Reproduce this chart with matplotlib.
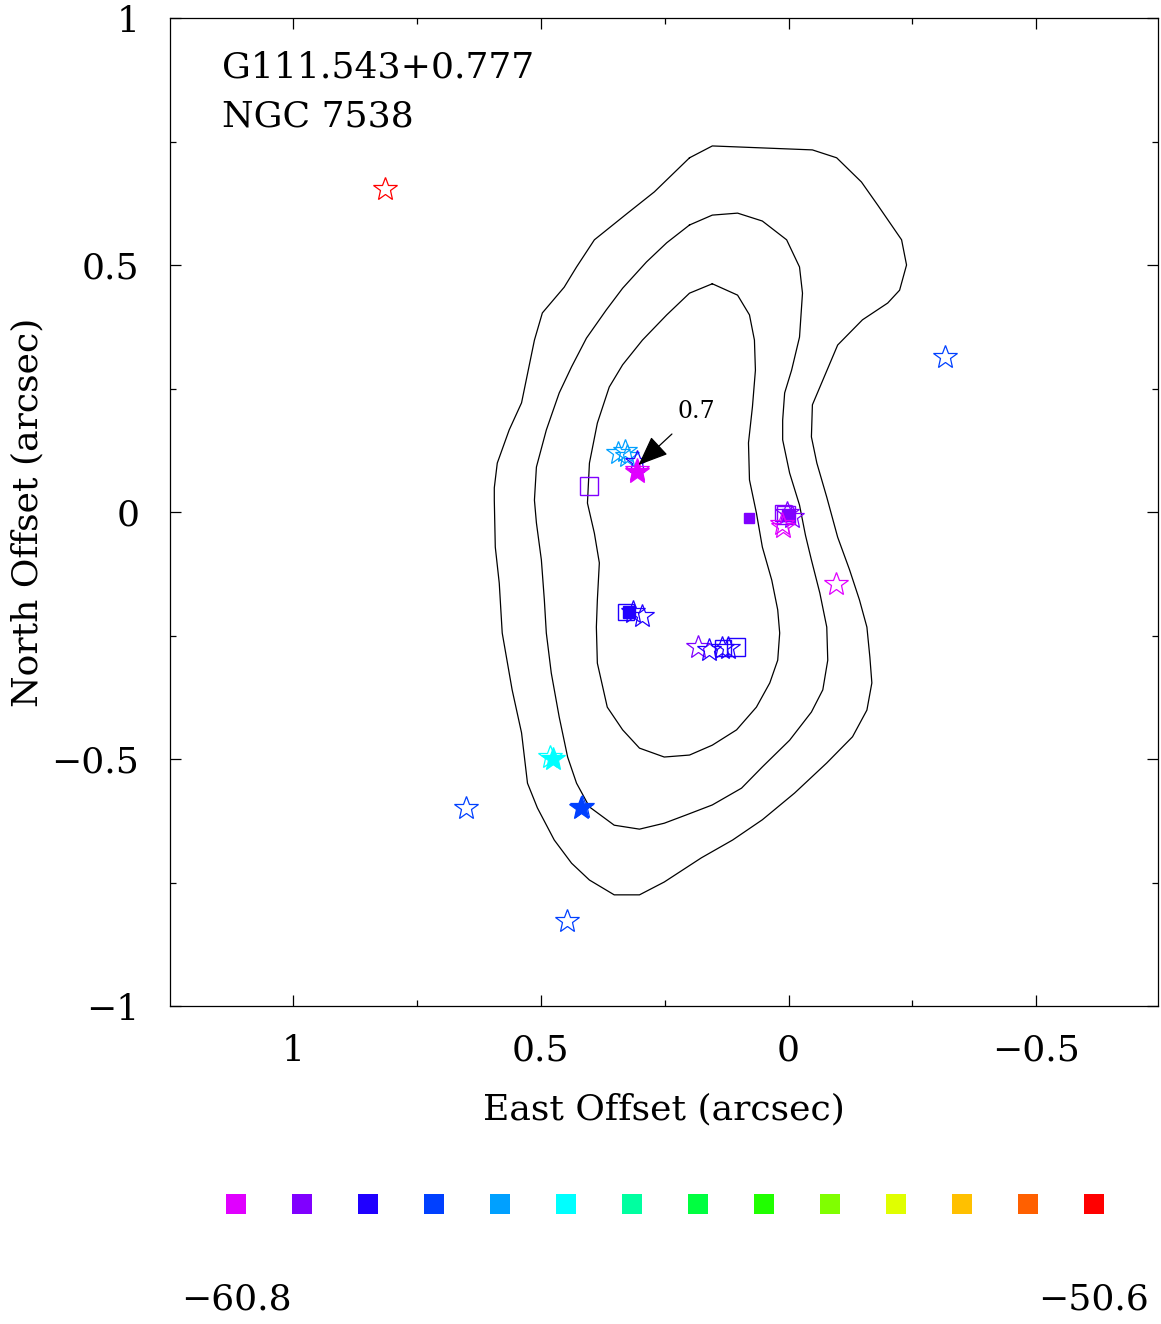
import numpy as np
import matplotlib
matplotlib.use('Agg')
import matplotlib.pyplot as plt
from matplotlib.colors import ListedColormap, Normalize
from matplotlib.ticker import MultipleLocator, FuncFormatter

# velocity key (km/s) and its colour bins
v_min = -60.8
v_max = -50.6
key_colours = ['#e000ff', '#8000ff', '#2000ff', '#0040ff', '#00a0ff', '#00ffff', '#00ffa0',
               '#00ff40', '#20ff00', '#80ff00', '#e0ff00', '#ffc000', '#ff6000', '#ff0000']

# maser spots drawn as stars: offsets (arcsec), velocity, filled or not
star_x = [0.814, -0.315, 0.345, 0.331, 0.327, 0.307, 0.307, 0.305, 0.004, -0.006, 0.012, 0.014,
          -0.095, 0.315, 0.295, 0.182, 0.160, 0.135, 0.123, 0.481, 0.476, 0.418, 0.420, 0.651, 0.448]
star_y = [0.654, 0.314, 0.119, 0.123, 0.113, 0.101, 0.085, 0.080, -0.002, -0.010, -0.030, -0.024,
          -0.146, -0.202, -0.211, -0.273, -0.279, -0.275, -0.275, -0.496, -0.500, -0.597, -0.599, -0.599, -0.828]
star_v = [-50.6, -58.4, -57.7, -57.7, -57.7, -59.2, -60.8, -60.8, -60.0, -60.0, -60.8, -60.8,
          -60.8, -59.2, -59.2, -60.0, -59.2, -59.2, -59.2, -56.9, -56.9, -58.4, -58.4, -58.4, -58.4]
star_fill = [False, False, False, False, False, False, False, True, False, False, False, False,
             False, False, False, False, False, False, False, False, True, False, True, False, False]

# spots drawn as squares
sq_x = [0.402, 0.079, 0.012, 0.006, 0.002, 0.329, 0.323, 0.133, 0.107]
sq_y = [0.053, -0.012, -0.002, -0.006, -0.006, -0.202, -0.202, -0.275, -0.273]
sq_v = [-60.0, -60.0, -60.0, -60.0, -60.0, -59.2, -59.2, -59.2, -59.2]
sq_fill = [False, True, False, False, True, False, True, False, False]
sq_ms = [13, 7, 11, 13, 9, 12, 9, 12, 13]

# continuum contours (arcsec)
outer_x = [0.200, 0.154, 0.103, -0.048, -0.097, -0.147, -0.180, -0.228, -0.238, -0.224, -0.200, -0.149,
           -0.099, -0.048, -0.046, -0.057, -0.077, -0.099, -0.123, -0.143, -0.158, -0.164, -0.168, -0.158,
           -0.129, -0.077, -0.012, 0.053, 0.113, 0.176, 0.251, 0.301, 0.352, 0.402, 0.438, 0.473, 0.507,
           0.527, 0.539, 0.558, 0.578, 0.584, 0.592, 0.594, 0.594, 0.588, 0.564, 0.539, 0.513, 0.497,
           0.453, 0.428, 0.392, 0.325, 0.271, 0.200]
outer_y = [0.717, 0.741, 0.739, 0.733, 0.717, 0.668, 0.621, 0.551, 0.500, 0.449, 0.423, 0.389,
           0.338, 0.217, 0.152, 0.099, 0.030, -0.051, -0.117, -0.178, -0.233, -0.294, -0.346, -0.401,
           -0.455, -0.508, -0.569, -0.623, -0.664, -0.700, -0.749, -0.775, -0.775, -0.745, -0.711, -0.664,
           -0.599, -0.549, -0.447, -0.360, -0.245, -0.144, -0.071, 0.024, 0.049, 0.099, 0.166, 0.221,
           0.348, 0.403, 0.455, 0.496, 0.551, 0.605, 0.648, 0.717]

middle_x = [0.200, 0.154, 0.103, 0.053, 0.004, -0.022, -0.028, -0.022, -0.006, 0.008, 0.012, 0.012,
            -0.002, -0.022, -0.034, -0.046, -0.063, -0.077, -0.079, -0.069, -0.046, -0.002, 0.053, 0.095,
            0.154, 0.206, 0.251, 0.301, 0.352, 0.402, 0.428, 0.446, 0.463, 0.479, 0.489, 0.493, 0.499,
            0.509, 0.513, 0.509, 0.489, 0.463, 0.438, 0.408, 0.368, 0.335, 0.287, 0.246, 0.200]
middle_y = [0.581, 0.601, 0.605, 0.589, 0.551, 0.496, 0.443, 0.354, 0.287, 0.241, 0.186, 0.146,
            0.079, 0.014, -0.047, -0.097, -0.164, -0.233, -0.300, -0.360, -0.405, -0.462, -0.516, -0.559,
            -0.593, -0.613, -0.630, -0.642, -0.634, -0.597, -0.549, -0.496, -0.415, -0.326, -0.245, -0.178,
            -0.097, -0.022, 0.024, 0.091, 0.166, 0.241, 0.294, 0.352, 0.409, 0.453, 0.506, 0.545, 0.581]

inner_x = [0.154, 0.103, 0.079, 0.069, 0.067, 0.073, 0.081, 0.079, 0.065, 0.053, 0.034, 0.022,
           0.018, 0.022, 0.038, 0.065, 0.105, 0.154, 0.200, 0.251, 0.301, 0.335, 0.366, 0.386,
           0.388, 0.386, 0.382, 0.392, 0.406, 0.402, 0.386, 0.362, 0.335, 0.295, 0.246, 0.200, 0.154]
inner_y = [0.462, 0.439, 0.399, 0.348, 0.287, 0.213, 0.140, 0.065, -0.002, -0.071, -0.138, -0.198,
           -0.245, -0.300, -0.346, -0.395, -0.441, -0.472, -0.492, -0.496, -0.478, -0.441, -0.395, -0.306,
           -0.233, -0.178, -0.103, -0.043, 0.018, 0.099, 0.180, 0.253, 0.298, 0.348, 0.399, 0.443, 0.462]

source_name = 'G111.543+0.777'
source_alias = 'NGC 7538'
peak_label = '0.7'

plt.rcParams['font.family'] = ['DejaVu Serif']
plt.rcParams['mathtext.fontset'] = 'dejavuserif'

n_bins = len(key_colours)
step = (v_max - v_min) / (n_bins - 1)
cmap = ListedColormap(key_colours)
norm = Normalize(vmin=v_min - step / 2, vmax=v_max + step / 2)

fig = plt.figure(figsize=(11.61, 13.24), dpi=100)
ax = fig.add_axes([170 / 1161, 318 / 1324, 988 / 1161, 988 / 1324])

for cx, cy in [(outer_x, outer_y), (middle_x, middle_y), (inner_x, inner_y)]:
    ax.plot(cx, cy, color='black', lw=0.9, zorder=2)

for x, y, v, f, ms in zip(sq_x, sq_y, sq_v, sq_fill, sq_ms):
    c = cmap(norm(v))
    ax.plot(x, y, 's', ms=ms, mec=c, mfc=c if f else 'none', mew=1.0, zorder=3)

for x, y, v, f in zip(star_x, star_y, star_v, star_fill):
    c = cmap(norm(v))
    ax.plot(x, y, '*', ms=18, mec=c, mfc=c if f else 'none', mew=0.9, zorder=4)

ax.annotate(peak_label, xy=(0.303, 0.095), xytext=(0.186, 0.204), fontsize=17,
            ha='center', va='center', zorder=5,
            arrowprops=dict(arrowstyle='-|>,head_length=1.1,head_width=0.45', color='black',
                            lw=0.9, shrinkA=9, shrinkB=0))

ax.text(0.053, 0.950, source_name, transform=ax.transAxes, fontsize=26, va='center', ha='left')
ax.text(0.053, 0.900, source_alias, transform=ax.transAxes, fontsize=26, va='center', ha='left')

ax.set_xlim(1.2485, -0.7455)
ax.set_ylim(-1, 1)

fmt = FuncFormatter(lambda v, pos: ('%g' % v).replace('-', '\u2212'))
for axis in [ax.xaxis, ax.yaxis]:
    axis.set_major_locator(MultipleLocator(0.5))
    axis.set_minor_locator(MultipleLocator(0.25))
    axis.set_major_formatter(fmt)
ax.tick_params(which='both', direction='in', top=True, right=True, width=0.9, labelsize=26)
ax.tick_params(which='major', length=8)
ax.tick_params(which='minor', length=4)
ax.tick_params(axis='x', pad=20)
ax.tick_params(axis='y', pad=22)
for sp in ax.spines.values():
    sp.set_linewidth(0.9)

ax.set_xlabel('East Offset (arcsec)', fontsize=26)
ax.set_ylabel('North Offset (arcsec)', fontsize=26)
ax.xaxis.set_label_coords(0.5, -0.105)
ax.yaxis.set_label_coords(-0.144, 0.5)
ax.xaxis.label.set_va('center')
ax.yaxis.label.set_va('center')

# velocity key below the map
kax = fig.add_axes([170 / 1161, 0, 988 / 1161, 140 / 1324])
kax.set_xlim(-1, 988 / 66 - 1)
kax.set_ylim(0, 140)
key_pos = np.arange(n_bins)
kax.scatter(key_pos, np.full(n_bins, 120), marker='s', s=14.4 ** 2,
            c=[cmap(i) for i in range(n_bins)], linewidths=0)
kax.text(key_pos[0], 24, ('%.1f' % v_min).replace('-', '\u2212'), fontsize=26, ha='center', va='center')
kax.text(key_pos[-1], 24, ('%.1f' % v_max).replace('-', '\u2212'), fontsize=26, ha='center', va='center')
kax.axis('off')

fig.savefig('out.png', dpi=100)
